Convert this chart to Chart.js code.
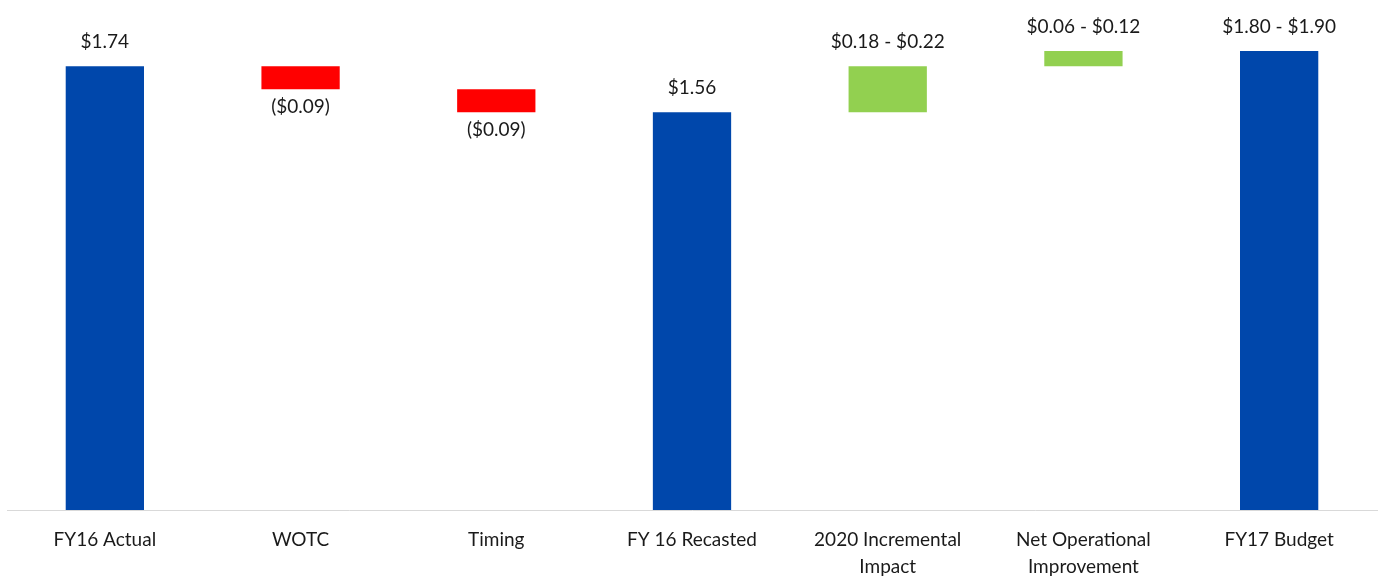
<!DOCTYPE html>
<html>
<head>
<meta charset="utf-8">
<style>
  html, body { margin: 0; padding: 0; background: #fff; }
  #wrap { width: 1380px; height: 582px; }
</style>
<script src="https://cdn.jsdelivr.net/npm/chart.js@4"></script>
</head>
<body>
<div id="wrap"><canvas id="bridgeChart"></canvas></div>
<script>
// categories (multi-line labels as arrays)
const categories = [
  'FY16 Actual', 'WOTC', 'Timing', 'FY 16 Recasted',
  ['2020 Incremental', 'Impact'], ['Net Operational', 'Improvement'], 'FY17 Budget'
];
// floating bar ranges [from, to]
const barStart = [0, 1.65, 1.56, 0, 1.56, 1.74, 0];
const barEnd   = [1.74, 1.74, 1.65, 1.56, 1.74, 1.80, 1.80];
const barKind  = ['total', 'down', 'down', 'total', 'up', 'up', 'total'];
const valueLabels = ['$1.74', '($0.09)', '($0.09)', '$1.56', '$0.18 - $0.22', '$0.06 - $0.12', '$1.80 - $1.90'];

const kindColor = { total: '#0047AB', down: '#FF0000', up: '#92D050' };
const FONT = 'Lato, "Open Sans", sans-serif';

// draw the value text above (up/total) or below (down) each bar
const valueLabelPlugin = {
  id: 'valueLabels',
  afterDatasetsDraw(chart) {
    const ctx = chart.ctx;
    const meta = chart.getDatasetMeta(0);
    ctx.save();
    ctx.font = '19px ' + FONT;
    ctx.fillStyle = '#1a1a1a';
    ctx.textAlign = 'center';
    ctx.textBaseline = 'middle';
    meta.data.forEach((bar, i) => {
      const top = Math.min(bar.y, bar.base);
      const bottom = Math.max(bar.y, bar.base);
      if (barKind[i] === 'down') {
        ctx.fillText(valueLabels[i], bar.x, bottom + 18);
      } else {
        ctx.fillText(valueLabels[i], bar.x, top - 24);
      }
    });
    ctx.restore();
  }
};

new Chart(document.getElementById('bridgeChart').getContext('2d'), {
  type: 'bar',
  data: {
    labels: categories,
    datasets: [{
      data: barStart.map((s, i) => [s, barEnd[i]]),
      backgroundColor: barKind.map(k => kindColor[k]),
      borderSkipped: false,
      borderWidth: 0,
      categoryPercentage: 1,
      barPercentage: 0.4
    }]
  },
  options: {
    responsive: true,
    maintainAspectRatio: false,
    animation: false,
    layout: { padding: { left: 7, right: 3, top: 0, bottom: 0 } },
    plugins: { legend: { display: false }, tooltip: { enabled: false } },
    scales: {
      x: {
        grid: { display: false, drawTicks: false },
        border: { color: '#D9D9D9', width: 1 },
        ticks: { color: '#1a1a1a', font: { family: FONT, size: 19, lineHeight: 1.4 }, padding: 17, maxRotation: 0, autoSkip: false },
        // keep the axis band the same height as the original
        afterFit(scale) { scale.height = 72; }
      },
      y: {
        display: false,
        min: 0,
        max: 2.0
      }
    }
  },
  plugins: [valueLabelPlugin]
});
</script>
</body>
</html>
